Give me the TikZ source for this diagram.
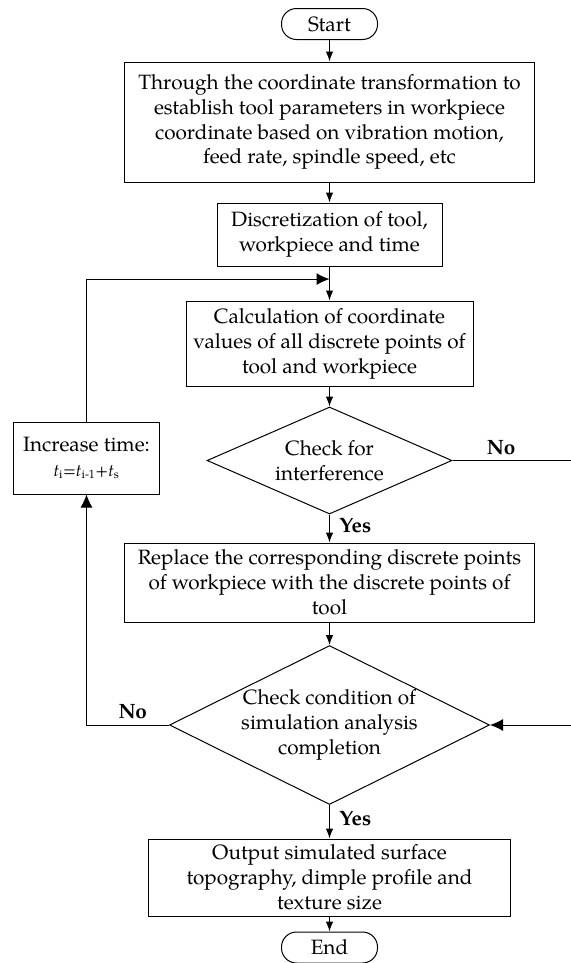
\documentclass[tikz,border=0pt]{standalone}
\usepackage{fontspec}
\setmainfont{TeX Gyre Pagella}
\usetikzlibrary{calc,shapes.geometric,arrows.meta}

\begin{document}
\begin{tikzpicture}[x=1bp,y=-1bp,line width=1bp,
  every node/.style={font=\fontsize{20.8}{25}\selectfont,align=center},
  box/.style={draw,rectangle,inner sep=1bp},
  term/.style={draw,rectangle,rounded corners=15bp,minimum width=96bp,minimum height=31bp,inner sep=0},
  check/.style={draw,diamond,aspect=2,inner sep=0},
  arr/.style={-{Latex[length=10bp,width=7.5bp]}},
  bigarr/.style={-{Latex[length=13bp,width=12bp]}},
  lbl/.style={font=\fontsize{20.8}{25}\selectfont\bfseries}]
  \useasboundingbox (0,0) rectangle (571,963);

  %% Main column of steps
  \node[term] (start) at (329.5,24) {Start};
  \node[box,minimum width=409bp,minimum height=120bp] (trans) at (329.5,122)
    {Through the coordinate transformation to\\establish tool parameters in workpiece\\coordinate based on vibration motion,\\feed rate, spindle speed, etc};
  \node[box,minimum width=225bp,minimum height=63bp] (disc) at (329.5,234.5)
    {Discretization of tool,\\workpiece and time};
  \node[box,minimum width=287bp,minimum height=85bp] (coord) at (329.5,343.5)
    {Calculation of coordinate\\values of all discrete points of\\tool and workpiece};
  \node[check,minimum width=245bp,minimum height=107bp] (inter) at (329.5,460.5)
    {Check for\\interference};
  \node[box,minimum width=410bp,minimum height=79bp] (repl) at (329.5,582.5)
    {Replace the corresponding discrete points\\of workpiece with the discrete points of\\tool};
  \node[check,minimum width=320bp,minimum height=158bp] (sim) at (329.5,725)
    {Check condition of\\simulation analysis\\completion};
  \node[box,minimum width=361bp,minimum height=77bp] (outp) at (329.5,877.5)
    {Output simulated surface\\topography, dimple profile and\\texture size};
  \node[term] (end) at (329.5,947.5) {End};

  %% Time step box on the left
  \node[box,minimum width=145bp,minimum height=72bp] (incr) at (86.5,458)
    {Increase time:\\{\fontsize{17}{21}\selectfont\textit{t}\textsubscript{i}=\textit{t}\textsubscript{i-1}+\textit{t}\textsubscript{s}}};

  %% Arrows down the column
  \draw[arr] (start) -- (trans);
  \draw[arr] (trans) -- (disc);
  \draw[arr] (disc) -- (coord);
  \draw[arr] (coord) -- (inter);
  \draw[arr] (inter) -- node[lbl,right=6bp,pos=0.4]{Yes} (repl);
  \draw[arr] (repl) -- (sim);
  \draw[arr] (sim) -- node[lbl,right=6bp,pos=0.4]{Yes} (outp);
  \draw[arr] (outp) -- (end);

  %% Feedback paths
  \coordinate (join) at ($(disc.south)!0.37!(coord.north)$);
  \draw[bigarr] (incr.north) |- (join);
  \draw[bigarr] (sim.west) -| node[lbl,pos=0.22,above=2bp]{No} (incr.south);
  \coordinate (rside) at (574,460.5);
  \draw[bigarr] (inter.east) -- node[lbl,above=2bp,pos=0.4]{No} (rside) |- (sim.east);
\end{tikzpicture}
\end{document}
